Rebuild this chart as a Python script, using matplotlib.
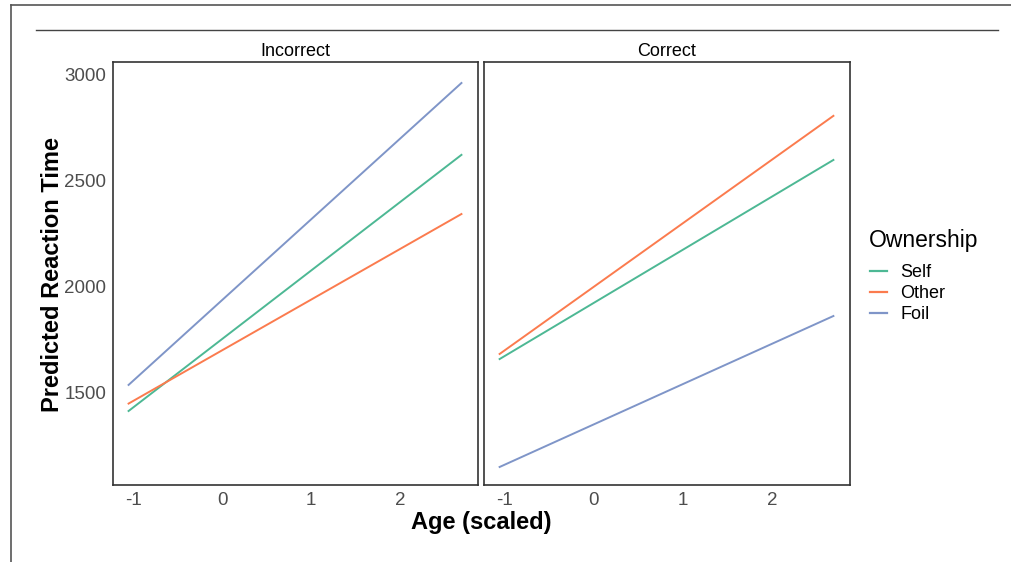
import matplotlib.pyplot as plt
from matplotlib.lines import Line2D

plt.rcParams["font.family"] = ["Liberation Sans", "DejaVu Sans"]

# facet / series data (line endpoints)
panels = ["Incorrect", "Correct"]
series = ["Self", "Other", "Foil"]
colors = {"Self": "#4DB894", "Other": "#FB7B4E", "Foil": "#7F95C8"}

age = [-1.05, 2.69]
incorrect_self = [1415, 2623]
incorrect_other = [1450, 2344]
incorrect_foil = [1538, 2962]
correct_self = [1660, 2599]
correct_other = [1684, 2807]
correct_foil = [1151, 1863]

x_ticks = [-1, 0, 1, 2]
y_ticks = [1500, 2000, 2500, 3000]

values = {
    "Incorrect": {"Self": incorrect_self, "Other": incorrect_other, "Foil": incorrect_foil},
    "Correct": {"Self": correct_self, "Other": correct_other, "Foil": correct_foil},
}

W, H = 1011, 562
fig = plt.figure(figsize=(W / 100, H / 100), dpi=100)


def px_axes(x0, y0, x1, y1):
    return fig.add_axes([x0 / W, 1 - y1 / H, (x1 - x0) / W, (y1 - y0) / H])


# outer frame from the screenshot
fig.add_artist(Line2D([11 / W, 11 / W], [0, 1 - 5 / H], color="#555555", lw=1.2))
fig.add_artist(Line2D([11 / W, 1], [1 - 5 / H, 1 - 5 / H], color="#555555", lw=1.2))
fig.add_artist(Line2D([36 / W, 998 / W], [1 - 30 / H, 1 - 30 / H], color="#444444", lw=1.0))

boxes = [(113, 62, 478, 485), (484, 62, 850, 485)]
xmin, xmax = -1.225, 2.876
ymin, ymax = 1066, 3061

for i, (name, box) in enumerate(zip(panels, boxes)):
    ax = px_axes(*box)
    for s in series:
        ax.plot(age, values[name][s], color=colors[s], lw=1.4, label=s)
    ax.set_xlim(xmin, xmax)
    ax.set_ylim(ymin, ymax)
    ax.set_xticks(x_ticks)
    ax.set_xticklabels([str(t) for t in x_ticks])
    ax.set_yticks(y_ticks)
    ax.tick_params(labelsize=13.5, labelcolor="#4D4D4D", length=0, pad=5)
    if i == 0:
        ax.set_yticklabels([str(t) for t in y_ticks])
    else:
        ax.set_yticklabels([])
    for sp in ax.spines.values():
        sp.set_color("#333333")
        sp.set_linewidth(1.2)
    ax.set_title(name, fontsize=13, pad=4)

fig.text(53 / W, 1 - 275 / H, "Predicted Reaction Time", rotation=90, fontsize=17,
         fontweight="bold", ha="center", va="center")
fig.text(481 / W, 1 - 523 / H, "Age (scaled)", fontsize=17, fontweight="bold",
         ha="center", va="center")

fig.text(869 / W, 1 - 240 / H, "Ownership", fontsize=16.5, ha="left", va="center")
handles = [Line2D([0], [0], color=colors[s], lw=1.6) for s in series]
leg = fig.legend(handles, series, loc="upper left", bbox_to_anchor=(854 / W, 1 - 248 / H),
                 frameon=False, fontsize=13, handlelength=0.95, handletextpad=0.7,
                 labelspacing=0.22)

fig.savefig("out.png", dpi=100)
